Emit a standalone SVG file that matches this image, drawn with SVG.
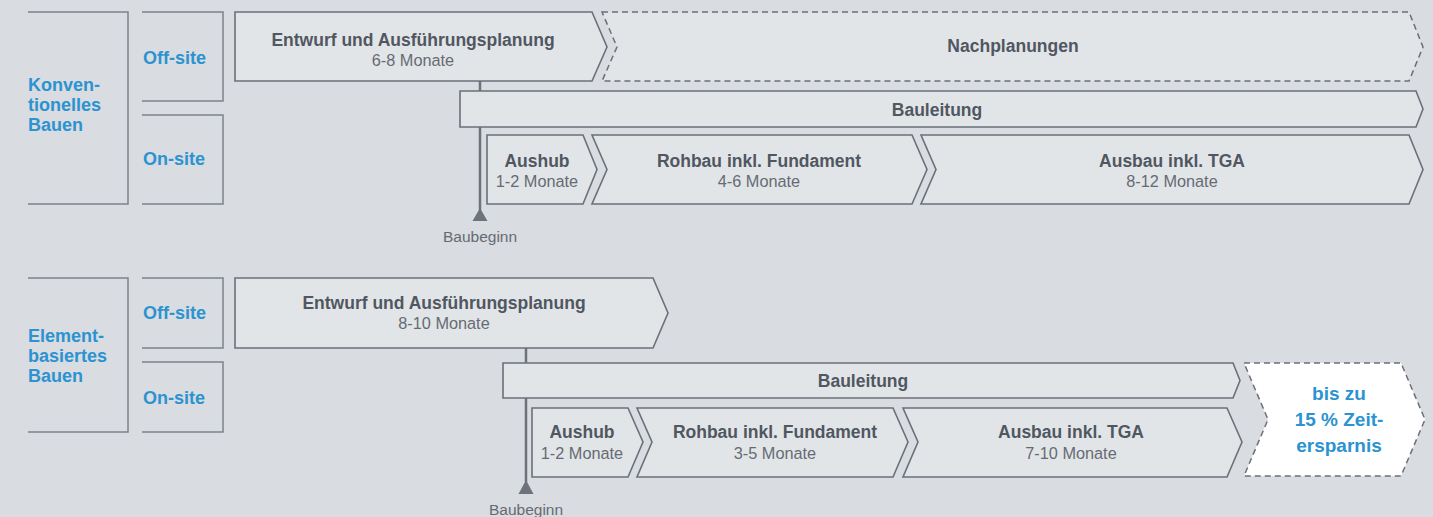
<svg xmlns="http://www.w3.org/2000/svg" width="1433" height="517" viewBox="0 0 1433 517">
<defs>
<style>
.bg{fill:#d9dce0}
.box{fill:#e2e5e8;stroke:#6b7079;stroke-width:1.6;stroke-linejoin:miter}
.dash{fill:#e2e5e8;stroke:#6b7079;stroke-width:1.5;stroke-dasharray:6 4}
.save{fill:#ffffff;stroke:#6b7079;stroke-width:1.5;stroke-dasharray:6 4}
.br{fill:none;stroke:#7d828a;stroke-width:1.5}
.ms{stroke:#6e737b;stroke-width:2.5}
.tri{fill:#6e737b}
.t{font-family:"Liberation Sans",Arial,sans-serif;font-weight:bold;font-size:17.5px;fill:#505761;text-anchor:middle}
.s{font-family:"Liberation Sans",Arial,sans-serif;font-size:16.3px;fill:#666b73;text-anchor:middle}
.b{font-family:"Liberation Sans",Arial,sans-serif;font-weight:bold;font-size:18px;fill:#2b93d1}
.bc{font-family:"Liberation Sans",Arial,sans-serif;font-weight:bold;font-size:19px;fill:#2b93d1;text-anchor:middle}
</style>
</defs>
<rect class="bg" x="0" y="0" width="1433" height="517"/>

<g id="connectors">
<line class="ms" x1="480" y1="81" x2="480" y2="210"/>
<polygon class="tri" points="480,208 487.5,221 472.5,221"/>
<line class="ms" x1="526" y1="348" x2="526" y2="482"/>
<polygon class="tri" points="526,480 533.5,494 518.5,494"/>
</g>

<g id="label-konv">
<path class="br" d="M28,12 H128 V204 H28"/>
<text class="b" x="28" y="91">Konven-</text>
<text class="b" x="28" y="111">tionelles</text>
<text class="b" x="28" y="131">Bauen</text>
</g>
<g id="label-konv-off">
<path class="br" d="M142,12 H223 V101 H142"/>
<text class="b" x="143" y="64">Off-site</text>
</g>
<g id="label-konv-on">
<path class="br" d="M142,115 H223 V204 H142"/>
<text class="b" x="143" y="165">On-site</text>
</g>

<g id="konv-entwurf">
<polygon class="box" points="235,12 592,12 607,47 592,81 235,81"/>
<text class="t" x="413" y="46">Entwurf und Ausführungsplanung</text>
<text class="s" x="413" y="66">6-8 Monate</text>
</g>
<g id="konv-nachplanungen">
<polygon class="dash" points="602,12 1409,12 1423,47 1409,81 602,81 617,47"/>
<text class="t" x="1013" y="52">Nachplanungen</text>
</g>
<g id="konv-bauleitung">
<polygon class="box" points="460,91 1416,91 1423,109 1416,127 460,127"/>
<text class="t" x="937" y="116">Bauleitung</text>
</g>
<g id="konv-aushub">
<polygon class="box" points="487,135 583,135 597,169.5 583,204 487,204"/>
<text class="t" x="537" y="167">Aushub</text>
<text class="s" x="537" y="187">1-2 Monate</text>
</g>
<g id="konv-rohbau">
<polygon class="box" points="592,135 912,135 927,169.5 912,204 592,204 607,169.5"/>
<text class="t" x="759" y="167">Rohbau inkl. Fundament</text>
<text class="s" x="759" y="187">4-6 Monate</text>
</g>
<g id="konv-ausbau">
<polygon class="box" points="921,135 1409,135 1423,169.5 1409,204 921,204 936,169.5"/>
<text class="t" x="1172" y="167">Ausbau inkl. TGA</text>
<text class="s" x="1172" y="187">8-12 Monate</text>
</g>
<g id="konv-baubeginn">
<text class="s" x="480" y="242" style="font-size:15.5px">Baubeginn</text>
</g>

<g id="label-elem">
<path class="br" d="M28,278 H128 V432 H28"/>
<text class="b" x="28" y="342">Element-</text>
<text class="b" x="28" y="362">basiertes</text>
<text class="b" x="28" y="382">Bauen</text>
</g>
<g id="label-elem-off">
<path class="br" d="M142,278 H223 V348 H142"/>
<text class="b" x="143" y="319">Off-site</text>
</g>
<g id="label-elem-on">
<path class="br" d="M142,362 H223 V432 H142"/>
<text class="b" x="143" y="404">On-site</text>
</g>

<g id="elem-entwurf">
<polygon class="box" points="235,278 653,278 668,313 653,348 235,348"/>
<text class="t" x="444" y="309">Entwurf und Ausführungsplanung</text>
<text class="s" x="444" y="329">8-10 Monate</text>
</g>
<g id="elem-bauleitung">
<polygon class="box" points="503,363 1233,363 1240,380.5 1233,398 503,398"/>
<text class="t" x="863" y="387">Bauleitung</text>
</g>
<g id="elem-aushub">
<polygon class="box" points="532,408 628,408 643,442 628,477 532,477"/>
<text class="t" x="582" y="438">Aushub</text>
<text class="s" x="582" y="459">1-2 Monate</text>
</g>
<g id="elem-rohbau">
<polygon class="box" points="637,408 893,408 908,442 893,477 637,477 652,442"/>
<text class="t" x="775" y="438">Rohbau inkl. Fundament</text>
<text class="s" x="775" y="459">3-5 Monate</text>
</g>
<g id="elem-ausbau">
<polygon class="box" points="903,408 1227,408 1242,442 1227,477 903,477 918,442"/>
<text class="t" x="1071" y="438">Ausbau inkl. TGA</text>
<text class="s" x="1071" y="459">7-10 Monate</text>
</g>
<g id="elem-ersparnis">
<polygon class="save" points="1244,363 1401,363 1425,419.5 1401,476 1244,476 1268,419.5"/>
<text class="bc" x="1339" y="400">bis zu</text>
<text class="bc" x="1339" y="426">15 % Zeit-</text>
<text class="bc" x="1339" y="452">ersparnis</text>
</g>
<g id="elem-baubeginn">
<text class="s" x="526" y="515" style="font-size:15.5px">Baubeginn</text>
</g>
</svg>
